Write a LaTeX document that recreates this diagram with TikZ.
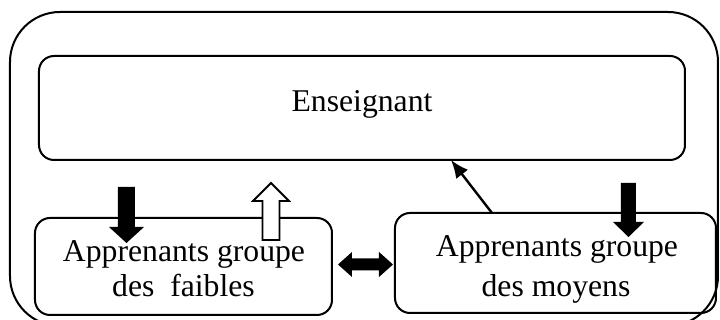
\documentclass[tikz,border=0pt]{standalone}
\usepackage{fontspec}
\setmainfont{Liberation Serif}
\usetikzlibrary{arrows.meta}
\tikzset{
  box/.style={draw, line width=1pt, rounded corners=7.5pt, inner sep=0pt},
  lbl/.style={anchor=base, inner sep=0pt, font=\fontsize{15.85}{19}\selectfont},
  blockblack/.style={fill=black},
  blockwhite/.style={draw=black, fill=white, line width=0.9pt, line join=miter},
  thinarrow/.style={line width=1.2pt, -{Latex[length=9pt,width=7.5pt]}}
}
\begin{document}
\begin{tikzpicture}[x=0.5pt,y=-0.5pt]
\useasboundingbox (0,0) rectangle (720,320);
% outer frame
\draw[line width=1pt, rounded corners=25pt] (10,12) rectangle (718,326);
% boxes
\node[box, minimum width=323pt, minimum height=52pt] (ens) at (362,108) {};
\node[box, minimum width=148.5pt, minimum height=48.5pt] (faib) at (183.5,266.5) {};
\node[box, minimum width=160.5pt, minimum height=50pt] (moy) at (555.5,263) {};
% texts
\node[lbl] (enst) at (362,112) {Enseignant};
\node[lbl] (faib1) at (184,262) {Apprenants groupe};
\node[lbl] (faib2) at (183.5,297) {des\ \ faibles};
\node[lbl] (moy1) at (557,257) {Apprenants groupe};
\node[lbl] (moy2) at (556,297) {des moyens};
% block arrows
\coordinate (a1) at (126.5,187);
\fill[blockblack] (a1) ++(-8.5,0) -- ++(17,0) -- ++(0,40) -- ++(9,0) -- ++(-17.5,16) -- ++(-17.5,-16) -- ++(9,0) -- cycle;
\coordinate (a2) at (628.5,183);
\fill[blockblack] (a2) ++(-7.5,0) -- ++(15,0) -- ++(0,39) -- ++(8,0) -- ++(-15.5,15) -- ++(-15.5,-15) -- ++(8,0) -- cycle;
\coordinate (a3) at (271,240);
\draw[blockwhite] (a3) ++(-8.5,0) -- ++(0,-39) -- ++(-9.5,0) -- ++(18,-18) -- ++(18,18) -- ++(-9.5,0) -- ++(0,39) -- cycle;
\coordinate (a4) at (338,264.5);
\fill[blockblack] (a4) -- ++(14,-12.5) -- ++(0,6.5) -- ++(27,0) -- ++(0,-6.5) -- ++(14,12.5) -- ++(-14,12.5) -- ++(0,-6.5) -- ++(-27,0) -- ++(0,6.5) -- cycle;
% thin arrow
\coordinate (t1) at (492,213);
\coordinate (t2) at (451,160);
\draw[thinarrow] (t1) -- (t2);
\end{tikzpicture}
\end{document}
